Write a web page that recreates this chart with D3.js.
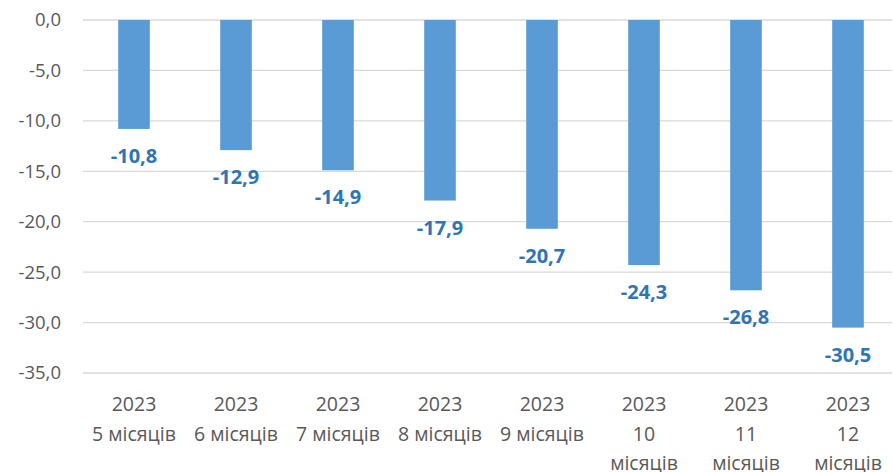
<!DOCTYPE html>
<html>
<head>
<meta charset="utf-8">
<script src="https://cdn.jsdelivr.net/npm/d3@7"></script>
<style>
  body { margin: 0; background: #fff; }
  text { font-family: "Open Sans", sans-serif; }
</style>
</head>
<body>
<div id="chart"></div>
<script>
  const periods = ["5 місяців", "6 місяців", "7 місяців", "8 місяців", "9 місяців", "10|місяців", "11|місяців", "12|місяців"];
  const yearLabel = "2023";
  const values = [-10.8, -12.9, -14.9, -17.9, -20.7, -24.3, -26.8, -30.5];
  const yTicks = [0, -5, -10, -15, -20, -25, -30, -35];

  const W = 893, H = 472;
  const svg = d3.select("#chart").append("svg")
    .attr("width", W).attr("height", H);

  const x = d3.scaleBand().domain(d3.range(periods.length)).range([83, 899]);
  const y = d3.scaleLinear().domain([0, -35]).range([20, 373]);
  const fmt = v => d3.format(".1f")(v).replace(".", ",").replace("−", "-");

  // grid
  svg.append("g")
    .selectAll("line")
    .data(yTicks)
    .join("line")
    .attr("x1", 83).attr("x2", 892)
    .attr("y1", d => y(d)).attr("y2", d => y(d))
    .attr("stroke", "#d9d9d9").attr("stroke-width", 1.3);

  // y axis labels
  svg.append("g")
    .attr("transform", "translate(61,0)")
    .style("font-size", "18.5px")
    .call(d3.axisLeft(y).tickValues(yTicks).tickFormat(fmt).tickSize(0).tickPadding(0))
    .call(g => g.select(".domain").remove())
    .call(g => g.selectAll("text").attr("fill", "#595959").style("font-family", "'Open Sans', sans-serif"));

  const bw = x.step() * 0.31;
  svg.append("g")
    .selectAll("rect")
    .data(values)
    .join("rect")
    .attr("x", (d, i) => x(i) + x.step() / 2 - bw / 2)
    .attr("width", bw)
    .attr("y", y(0))
    .attr("height", d => y(d) - y(0))
    .attr("fill", "#5b9bd5");

  svg.append("g")
    .selectAll("text")
    .data(values)
    .join("text")
    .attr("x", (d, i) => x(i) + x.step() / 2)
    .attr("y", d => y(d) + 34)
    .attr("text-anchor", "middle")
    .attr("fill", "#2e75b6")
    .style("font-weight", "bold")
    .style("font-size", "20px")
    .text(fmt);

  // x labels
  const xl = svg.append("g")
    .selectAll("text")
    .data(periods)
    .join("text")
    .attr("x", (d, i) => x(i) + x.step() / 2)
    .attr("y", 411)
    .attr("text-anchor", "middle")
    .attr("fill", "#595959")
    .style("font-size", "19.5px");
  xl.each(function (d) {
    const t = d3.select(this);
    const lines = [yearLabel].concat(d.split("|"));
    lines.forEach((s, k) => {
      t.append("tspan")
        .attr("x", t.attr("x"))
        .attr("dy", k === 0 ? 0 : 29.5)
        .text(s);
    });
  });
</script>
</body>
</html>
